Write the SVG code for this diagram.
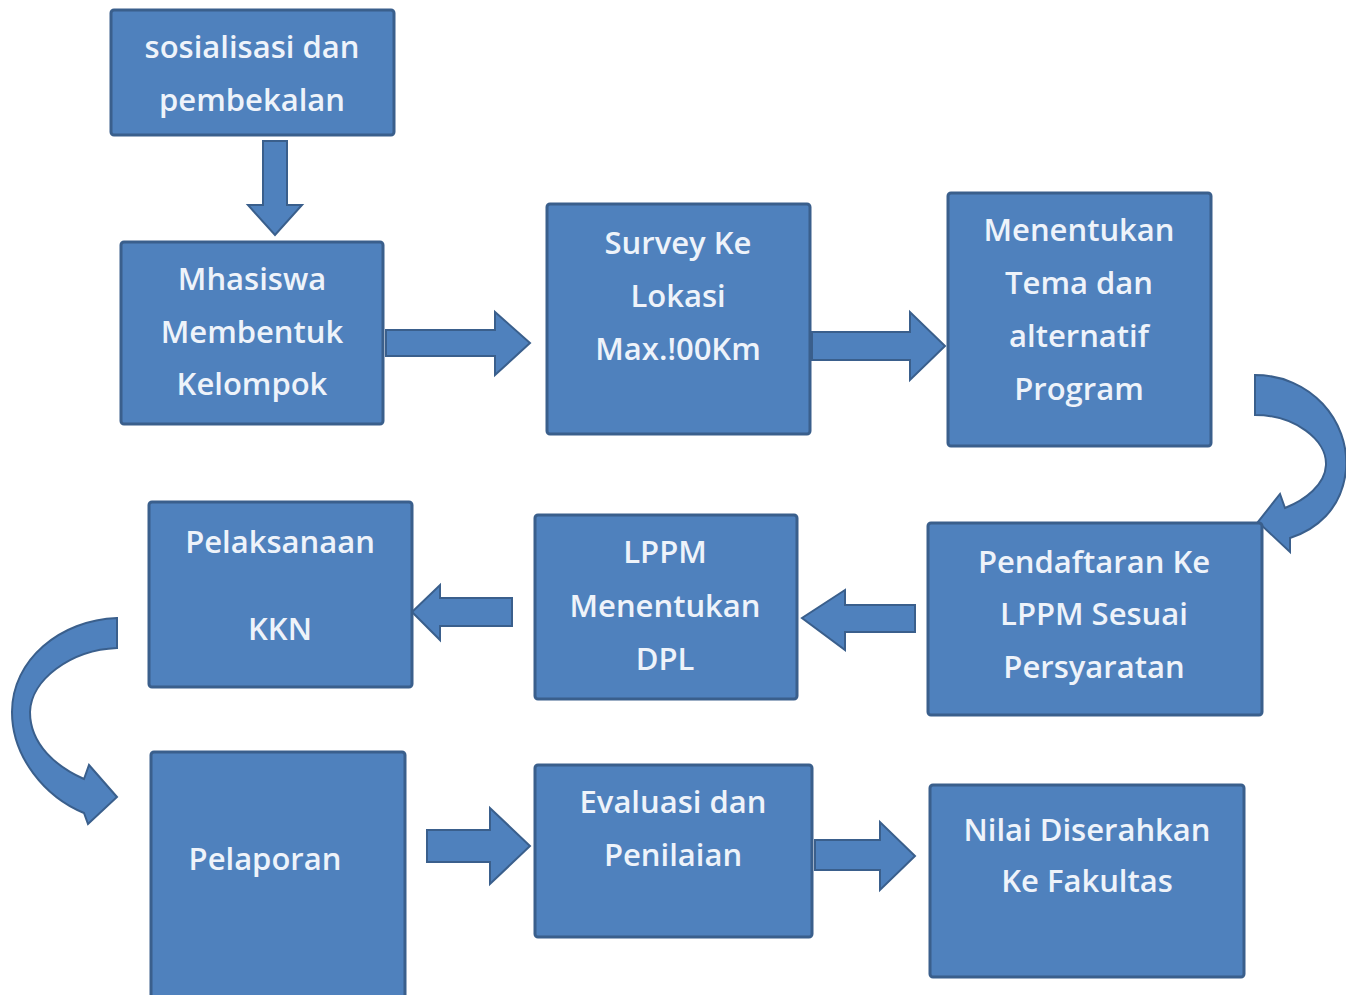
<svg xmlns="http://www.w3.org/2000/svg" width="1346" height="995" viewBox="0 0 1346 995">
<style>
.box{fill:#4F81BD;stroke:#3A5F8C;stroke-width:3}
.arr{fill:#4F81BD;stroke:#3A5F8C;stroke-width:2;stroke-linejoin:miter}
text{font-family:"Open Sans","Noto Sans",sans-serif;font-size:31px;font-weight:600;fill:#EEF3FA;text-anchor:middle}
</style>
<rect width="1346" height="995" fill="#FFFFFF"/>
<g id="connectors">
<polygon class="arr" points="263,141 287,141 287,205 302,205 275,235 248,205 263,205"/>
<polygon class="arr" points="386,330 495,330 495,312 530,343 495,375 495,356 386,356"/>
<polygon class="arr" points="812,332 910,332 910,312 945,346 910,380 910,360 812,360"/>
<path class="arr" d="M1255,375 C1310,375 1350,420 1346,470 C1342,510 1315,530 1290,538 L1290,552 L1258,522 L1280,494 L1285,508 C1305,500 1325,485 1326,465 C1327,440 1295,415 1255,415 Z"/>
<polygon class="arr" points="915,605 845,605 845,590 802,618 845,650 845,632 915,632"/>
<polygon class="arr" points="512,598 440,598 440,585 412,612 440,640 440,626 512,626"/>
<path class="arr" d="M117,618 C60,620 12,660 12,712 C12,757 45,797 84,813 L88,824 L117,797 L89,765 L84,779 C57,767 30,745 30,712 C31,680 70,650 117,648 Z"/>
<polygon class="arr" points="427,830 490,830 490,808 530,846 490,884 490,862 427,862"/>
<polygon class="arr" points="815,840 880,840 880,822 915,856 880,890 880,870 815,870"/>
</g>
<g id="n1"><rect class="box" x="111" y="10" width="283" height="125" rx="3"/><text x="252" y="58">sosialisasi dan</text><text x="252" y="111">pembekalan</text></g>
<g id="n2"><rect class="box" x="121" y="242" width="262" height="182" rx="3"/><text x="252" y="290">Mhasiswa</text><text x="252" y="343">Membentuk</text><text x="252" y="395">Kelompok</text></g>
<g id="n3"><rect class="box" x="547" y="204" width="263" height="230" rx="3"/><text x="678" y="254">Survey Ke</text><text x="678" y="307">Lokasi</text><text x="678" y="360">Max.!00Km</text></g>
<g id="n4"><rect class="box" x="948" y="193" width="263" height="253" rx="3"/><text x="1079" y="241">Menentukan</text><text x="1079" y="294">Tema dan</text><text x="1079" y="347">alternatif</text><text x="1079" y="400">Program</text></g>
<g id="n5"><rect class="box" x="928" y="523" width="334" height="192" rx="3"/><text x="1094" y="573">Pendaftaran Ke</text><text x="1094" y="625">LPPM Sesuai</text><text x="1094" y="678">Persyaratan</text></g>
<g id="n6"><rect class="box" x="535" y="515" width="262" height="184" rx="3"/><text x="665" y="563">LPPM</text><text x="665" y="617">Menentukan</text><text x="665" y="670">DPL</text></g>
<g id="n7"><rect class="box" x="149" y="502" width="263" height="185" rx="3"/><text x="280" y="553">Pelaksanaan</text><text x="280" y="640">KKN</text></g>
<g id="n8"><rect class="box" x="151" y="752" width="254" height="250" rx="3"/><text x="265" y="870">Pelaporan</text></g>
<g id="n9"><rect class="box" x="535" y="765" width="277" height="172" rx="3"/><text x="673" y="813">Evaluasi dan</text><text x="673" y="866">Penilaian</text></g>
<g id="n10"><rect class="box" x="930" y="785" width="314" height="192" rx="3"/><text x="1087" y="841">Nilai Diserahkan</text><text x="1087" y="892">Ke Fakultas</text></g>
</svg>
